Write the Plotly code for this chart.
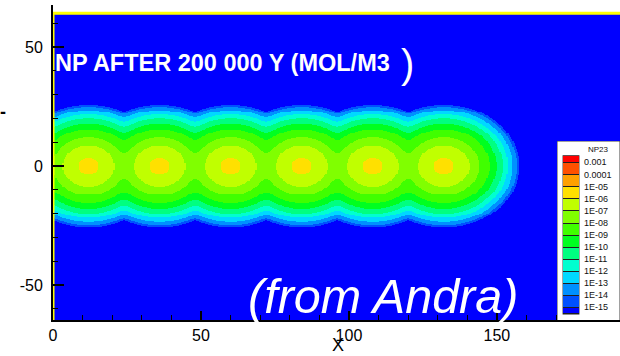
import numpy as np
import plotly.graph_objects as go

# ---------------- data ----------------
source_x = [12, 36, 60, 84, 108, 132]          # waste package centres (m)
source_y = [0, 0, 0, 0, 0, 0]
# radial concentration profile around one source: distance (m) -> log10(C)
profile_r = [0.0, 3.4, 8.7, 12.1, 15.5, 17.9, 20.0, 21.7, 23.4, 24.8, 25.7, 27.0, 30.0]
profile_log = [-5.3, -6.0, -7.0, -8.0, -9.0, -10.0, -11.0, -12.0, -13.0, -14.0, -15.0, -18.0, -30.0]

levels = [-15, -14, -13, -12, -11, -10, -9, -8, -7, -6, -5, -4, -3]
level_labels = ["1E-15", "1E-14", "1E-13", "1E-12", "1E-11", "1E-10", "1E-09",
                "1E-08", "1E-07", "1E-06", "1E-05", "0.0001", "0.001"]
band_colors = ["#0000ff", "#0050ff", "#0090ff", "#00d8ff", "#00ffd0", "#00ff80",
               "#00ff20", "#40ff00", "#80ff00", "#c0ff00", "#ffe000", "#ffa000",
               "#ff5000", "#ff0000"]

x_ticks = [0, 50, 100, 150]
x_tick_text = ["0", "50", "100", "150"]
y_ticks = [-50, 0, 50]
y_tick_text = ["-50", "0", "50"]

domain_x = [0, 200]
domain_y = [-64.7, 64.1]

# ---------------- field ----------------
step = 0.4
xe = np.arange(domain_x[0], domain_x[1] + step / 2, step)
ye = np.linspace(domain_y[0], domain_y[1], int(round((domain_y[1] - domain_y[0]) / step)) + 1)
xc = 0.5 * (xe[:-1] + xe[1:])
yc = 0.5 * (ye[:-1] + ye[1:])
X, Y = np.meshgrid(xc, yc)
conc = np.zeros_like(X)
for sx, sy in zip(source_x, source_y):
    r = np.hypot(X - sx, Y - sy)
    conc += 10 ** np.interp(r, profile_r, profile_log)
logc = np.log10(conc)
band = np.searchsorted(np.array(levels, float), logc, side="right")

nb = len(band_colors)
cscale = []
for i, c in enumerate(band_colors):
    cscale.append([i / nb, c])
    cscale.append([(i + 1) / nb, c])

FONT = "Liberation Sans, Arial, sans-serif"

fig = go.Figure()
fig.add_trace(go.Heatmap(x=xe, y=ye, z=band, zmin=-0.5, zmax=nb - 0.5,
                         colorscale=cscale, showscale=False, zsmooth=False,
                         hoverinfo="skip"))
# yellow domain boundary
fig.add_trace(go.Scatter(x=[domain_x[0], domain_x[0], domain_x[1]],
                         y=[domain_y[0], domain_y[1], domain_y[1]],
                         mode="lines", line=dict(color="#ffff00", width=3),
                         hoverinfo="skip", showlegend=False))

# ---------------- legend (own small axes) ----------------
box_edges = [0.0] + [k + 0.5 for k in range(nb - 1)] + [13.1]
fig.add_trace(go.Heatmap(x=[6, 22], y=box_edges, z=[[k] for k in range(nb)],
                         zmin=-0.5, zmax=nb - 0.5, colorscale=cscale, showscale=False,
                         ygap=1, xaxis="x2", yaxis="y2", hoverinfo="skip"))
fig.add_trace(go.Scatter(x=[27] * len(level_labels), y=[k + 0.5 for k in range(len(level_labels))],
                         text=level_labels, mode="text", textposition="middle right",
                         textfont=dict(family=FONT, size=9, color="#111111"),
                         xaxis="x2", yaxis="y2", hoverinfo="skip", showlegend=False,
                         cliponaxis=False))

fig.add_shape(type="rect", xref="x2", yref="y2", x0=0, x1=63, y0=-0.7, y1=14.34,
              fillcolor="white", line=dict(color="#404040", width=1), layer="below")
fig.add_shape(type="rect", xref="x2", yref="y2", x0=5.6, x1=22.4, y0=-0.05, y1=13.15,
              fillcolor="#202020", line=dict(width=0), layer="below")

fig.add_annotation(xref="x2", yref="y2", x=41, y=13.6, text="NP23", showarrow=False,
                   font=dict(family=FONT, size=8, color="#111111"))

# ---------------- texts ----------------
fig.add_annotation(xref="paper", yref="paper", x=0.0, y=0.816, xanchor="left", yanchor="middle",
                   text="<b>NP AFTER 200 000 Y (MOL/M3</b>", showarrow=False,
                   font=dict(family=FONT, size=23.5, color="white"))
fig.add_annotation(xref="paper", yref="paper", x=0.6245, y=0.8127, xanchor="center", yanchor="middle",
                   text=")", showarrow=False, font=dict(family=FONT, size=40, color="white"))
fig.add_annotation(xref="paper", yref="paper", x=0.582, y=0.077, xanchor="center", yanchor="middle",
                   text="<i>(from Andra)</i>", showarrow=False,
                   font=dict(family=FONT, size=48.5, color="white"))
fig.add_annotation(xref="paper", yref="paper", x=-0.0882, y=0.660, xanchor="center", yanchor="middle",
                   text="<b>-</b>", showarrow=False, font=dict(family=FONT, size=18, color="black"))
# x axis title
fig.add_annotation(xref="paper", yref="paper", x=0.5035, y=-0.1143, xanchor="center", yanchor="bottom",
                   text="X", showarrow=False, borderpad=0,
                   font=dict(family=FONT, size=18, color="black"))

axis_common = dict(showgrid=False, zeroline=False, showline=True, linecolor="black", linewidth=2,
                   ticks="inside", tickcolor="black", tickwidth=2, automargin=False,
                   tickfont=dict(family=FONT, size=16, color="black"))

fig.update_layout(
    width=620, height=356,
    margin=dict(l=53, r=0, t=5, b=36),
    paper_bgcolor="white", plot_bgcolor="white",
    showlegend=False,
    xaxis=dict(range=[0, 191.6], domain=[0, 1], tickmode="array", tickvals=x_ticks,
               ticktext=x_tick_text, ticklen=9,
               minor=dict(ticks="inside", tickmode="linear", tick0=0, dtick=10, ticklen=5,
                          tickwidth=1, tickcolor="black"),
               **axis_common),
    yaxis=dict(range=[-64.7, 67.6], domain=[0, 1], tickmode="array", tickvals=y_ticks,
               ticktext=y_tick_text, ticklen=11, ticklabelstandoff=5,
               minor=dict(ticks="inside", tickmode="linear", tick0=0, dtick=10, ticklen=5,
                          tickwidth=1, tickcolor="black"),
               **axis_common),
    xaxis2=dict(domain=[(557 - 53) / 567, 1.0], range=[0, 63], anchor="y2", visible=False,
                fixedrange=True),
    yaxis2=dict(domain=[0.0, (320 - 141) / 315], range=[-0.5, 14.34], anchor="x2", visible=False,
                fixedrange=True),
)

fig.write_html("out.html")
